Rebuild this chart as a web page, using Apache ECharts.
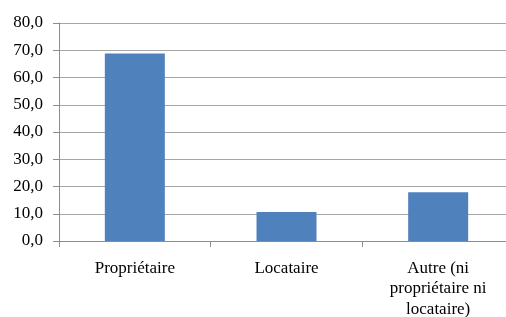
<!DOCTYPE html>
<html>
<head>
<meta charset="utf-8">
<script src="https://cdn.jsdelivr.net/npm/echarts@6/dist/echarts.min.js"></script>
<style>
  html, body { margin: 0; padding: 0; background: #fff; }
  #chart { width: 506px; height: 317px; }
</style>
</head>
<body>
<div id="chart"></div>
<script>
// catégories et valeurs (%)
const categories = ['Propriétaire', 'Locataire', 'Autre (ni\npropriétaire ni\nlocataire)']
const values = [68.8, 10.6, 17.9]

const chart = echarts.init(document.getElementById('chart'))
const font = '"Liberation Serif", "Times New Roman", serif'

chart.setOption({
  animation: false,
  grid: { left: 59, top: 23, width: 455, height: 218, outerBoundsMode: 'none' },
  xAxis: {
    type: 'category',
    data: categories,
    axisLine: { lineStyle: { color: '#8c8c8c', width: 1 } },
    axisTick: { show: true, length: 6, lineStyle: { color: '#8c8c8c' } },
    axisLabel: {
      color: '#000',
      fontFamily: font,
      fontSize: 17,
      lineHeight: 20.5,
      margin: 17,
      interval: 0
    }
  },
  yAxis: {
    type: 'value',
    min: 0,
    max: 80,
    interval: 10,
    axisLine: { show: true, lineStyle: { color: '#8c8c8c' } },
    axisTick: { show: true, length: 6, lineStyle: { color: '#8c8c8c' } },
    splitLine: { lineStyle: { color: '#a6a6a6', width: 1 } },
    axisLabel: {
      color: '#000',
      fontFamily: font,
      fontSize: 17,
      margin: 16,
      formatter: v => v.toFixed(1).replace('.', ',')
    }
  },
  series: [{
    type: 'bar',
    data: values,
    barWidth: 60,
    itemStyle: { color: '#4f81bd' }
  }]
})
</script>
</body>
</html>
